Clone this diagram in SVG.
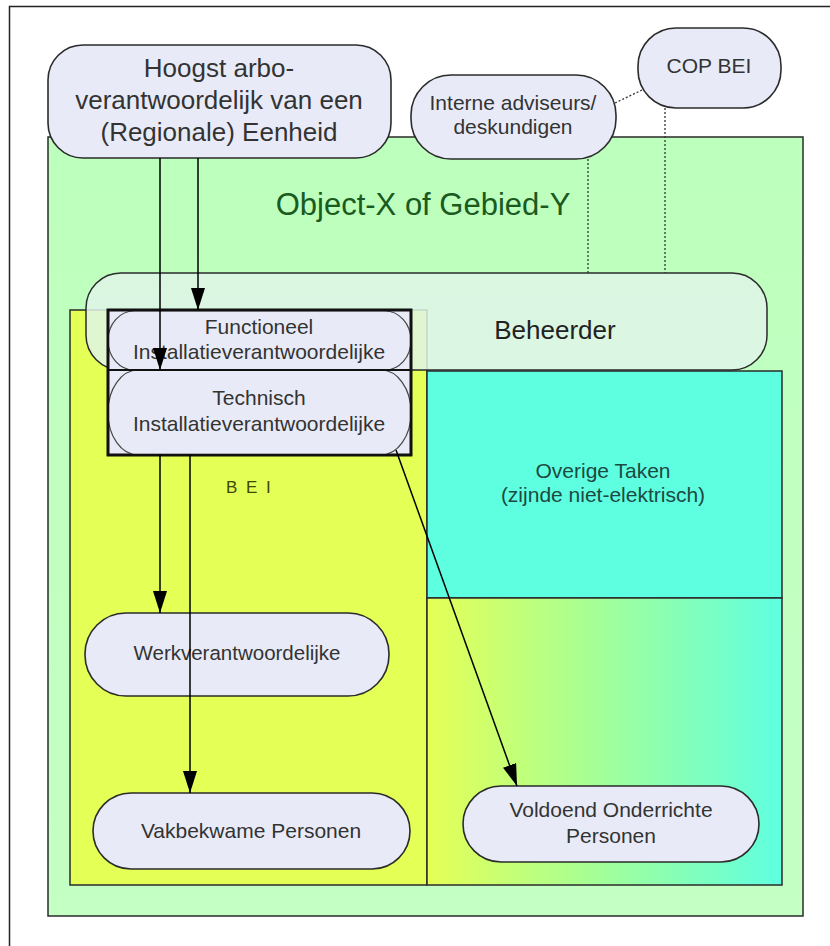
<svg xmlns="http://www.w3.org/2000/svg" width="830" height="946" viewBox="0 0 830 946">
<style>
text{font-family:"Liberation Sans",Arial,sans-serif;fill:#333;text-anchor:middle}
.node{fill:#e8ebf7;stroke:#2b2b2b;stroke-width:1.6}
.area{stroke:#2b2b2b;stroke-width:1.5}
.conn{stroke:#000;stroke-width:1.5;fill:none}
.dot{stroke:#333;stroke-width:1.3;fill:none;stroke-dasharray:2 2}
</style>
<defs>
<marker id="ah" markerUnits="userSpaceOnUse" markerWidth="22" markerHeight="14" refX="22" refY="7" orient="auto">
<path d="M0,0 L22,7 L0,14 z" fill="#000"/>
</marker>
<linearGradient id="gr" x1="0" y1="0" x2="1" y2="0">
<stop offset="0" stop-color="#e5ff55"/>
<stop offset="1" stop-color="#5effe0"/>
</linearGradient>
<linearGradient id="gg" x1="0" y1="0" x2="0" y2="1">
<stop offset="0" stop-color="#bdffbd"/>
<stop offset="1" stop-color="#c4ffc4"/>
</linearGradient>
</defs>
<rect x="0" y="0" width="830" height="946" fill="#fff"/>
<rect x="9.5" y="6.5" width="830" height="950" fill="#fff" stroke="#222" stroke-width="1.5"/>

<g id="object">
<rect class="area" x="48" y="137" width="755" height="779" fill="url(#gg)"/>
<text x="423" y="215" font-size="31" style="fill:#1b5a1f">Object-X of Gebied-Y</text>
</g>

<g id="bei">
<rect class="area" x="70" y="310" width="357" height="575" fill="#e4ff55"/>
<text x="226" y="493" font-size="17" letter-spacing="2" style="fill:#3b4a08;text-anchor:start">B E I</text>
</g>

<g id="beheerder">
<rect x="86" y="273" width="681" height="97" rx="35" ry="35" fill="#dff5e8" fill-opacity="0.85" stroke="#2b2b2b" stroke-width="1.5"/>
<text x="555" y="339" font-size="26" style="fill:#222">Beheerder</text>
</g>

<g id="overige">
<rect class="area" x="427" y="371" width="355" height="227" fill="#5effe0"/>
<text x="603" y="478" font-size="21" style="fill:#1d4a40">Overige Taken</text>
<text x="603" y="502" font-size="21" style="fill:#1d4a40">(zijnde niet-elektrisch)</text>
</g>

<g id="onderricht-area">
<rect class="area" x="427" y="598" width="355" height="287" fill="url(#gr)"/>
</g>

<g id="installatie">
<rect x="108" y="310" width="303" height="145" fill="#e8ebf7" stroke="#111" stroke-width="2.6"/>
<rect x="108" y="311" width="303" height="59" rx="26" ry="30" fill="#e8ebf7" stroke="#444" stroke-width="1.2"/>
<rect x="108" y="370" width="303" height="85" rx="30" ry="42" fill="#e8ebf7" stroke="#444" stroke-width="1.2"/>
<line x1="108" y1="370" x2="411" y2="370" stroke="#111" stroke-width="2"/>
<rect x="108" y="310" width="303" height="145" fill="none" stroke="#111" stroke-width="2.6"/>
<text x="259" y="334" font-size="21">Functioneel</text>
<text x="259" y="359" font-size="21">Installatieverantwoordelijke</text>
<text x="259" y="405" font-size="21">Technisch</text>
<text x="259" y="431" font-size="21">Installatieverantwoordelijke</text>
</g>

<g id="hoogst">
<rect class="node" x="48" y="45" width="343" height="113" rx="35" ry="35"/>
<text x="219" y="77" font-size="26">Hoogst arbo-</text>
<text x="219" y="109" font-size="26">verantwoordelijk van een</text>
<text x="219" y="141" font-size="26">(Regionale) Eenheid</text>
</g>

<g id="interne">
<rect class="node" x="411" y="75" width="205" height="84" rx="40" ry="40"/>
<text x="513" y="110" font-size="21">Interne adviseurs/</text>
<text x="513" y="134" font-size="21">deskundigen</text>
</g>

<g id="copbei">
<rect class="node" x="638" y="28" width="143" height="80" rx="38" ry="38"/>
<text x="709" y="73" font-size="21">COP BEI</text>
</g>

<g id="werk">
<rect class="node" x="85" y="613" width="304" height="83" rx="41" ry="41"/>
<text x="237" y="660" font-size="20.5">Werkverantwoordelijke</text>
</g>

<g id="vakbekwaam">
<rect class="node" x="93" y="793" width="317" height="76" rx="38" ry="38"/>
<text x="251" y="838" font-size="21">Vakbekwame Personen</text>
</g>

<g id="voldoend">
<rect class="node" x="463" y="786" width="296" height="76" rx="38" ry="38"/>
<text x="611" y="817" font-size="21">Voldoend Onderrichte</text>
<text x="611" y="843" font-size="21">Personen</text>
</g>

<g id="connectors">
<line class="conn" x1="160" y1="158" x2="160" y2="370" marker-end="url(#ah)"/>
<line class="conn" x1="198" y1="158" x2="198" y2="310" marker-end="url(#ah)"/>
<line class="conn" x1="160" y1="455" x2="160" y2="613" marker-end="url(#ah)"/>
<line class="conn" x1="190" y1="455" x2="190" y2="793" marker-end="url(#ah)"/>
<line class="conn" x1="396" y1="450" x2="517" y2="786" marker-end="url(#ah)"/>
<line class="dot" x1="588" y1="159" x2="588" y2="273"/>
<line class="dot" x1="665" y1="108" x2="665" y2="273"/>
<line class="dot" x1="615" y1="103" x2="642" y2="90"/>
</g>
</svg>
